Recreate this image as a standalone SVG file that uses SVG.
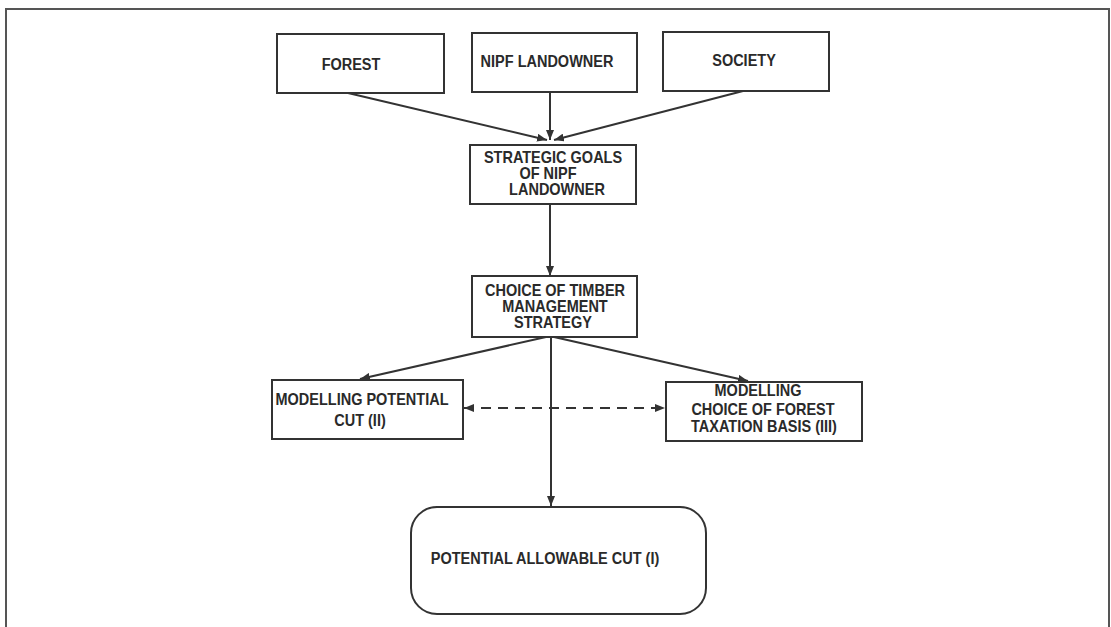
<svg xmlns="http://www.w3.org/2000/svg" width="1111" height="627" viewBox="0 0 1111 627">
  <defs>
    <style>
      .box { fill: #fff; stroke: #333; stroke-width: 2; }
      .frame { fill: none; stroke: #555; stroke-width: 2; }
      .lbl { font-family: "Liberation Sans", Arial, sans-serif; font-weight: bold; font-size: 14.5px; fill: #2a2a2a; text-anchor: middle; }
      .edge { fill: none; stroke: #333; stroke-width: 2; marker-end: url(#arrow); }
      .dash { stroke-dasharray: 10 7; marker-start: url(#arrow); }
    </style>
    <marker id="arrow" viewBox="0 0 10 8" refX="10" refY="4" markerWidth="10" markerHeight="8" markerUnits="userSpaceOnUse" orient="auto-start-reverse">
      <path d="M0,0 L10,4 L0,8 z" fill="#333"/>
    </marker>
  </defs>

  <rect width="1111" height="627" fill="#fff"/>
  <path class="frame" d="M6,627 V9 H1109 V627"/>

  <g id="connectors">
    <path class="edge" d="M348,93 L547,140"/>
    <path class="edge" d="M550,92 L550,140"/>
    <path class="edge" d="M743,91 L554,140"/>
    <path class="edge" d="M550,204 L550,276"/>
    <path class="edge" d="M546,337 L360,379"/>
    <path class="edge" d="M554,337 L748,381"/>
    <path class="edge" d="M551,337 L551,506"/>
    <path class="edge dash" d="M464,408 L665,408"/>
  </g>

  <g id="forest">
    <rect class="box" x="277" y="34" width="167" height="59"/>
    <text class="lbl" transform="translate(351,70) scale(1,1.2)">FOREST</text>
  </g>

  <g id="nipf-landowner">
    <rect class="box" x="472" y="33" width="165" height="59"/>
    <text class="lbl" transform="translate(547,67) scale(1,1.2)">NIPF LANDOWNER</text>
  </g>

  <g id="society">
    <rect class="box" x="663" y="32" width="166" height="59"/>
    <text class="lbl" transform="translate(744,66) scale(1,1.2)">SOCIETY</text>
  </g>

  <g id="strategic-goals">
    <rect class="box" x="470" y="145" width="166" height="59"/>
    <text class="lbl" transform="translate(553,163) scale(1,1.1)">STRATEGIC GOALS</text>
    <text class="lbl" transform="translate(548,179) scale(1,1.1)">OF NIPF</text>
    <text class="lbl" transform="translate(557,195) scale(1,1.1)">LANDOWNER</text>
  </g>

  <g id="timber-strategy">
    <rect class="box" x="472" y="276" width="165" height="61"/>
    <text class="lbl" transform="translate(555,296) scale(1,1.15)">CHOICE OF TIMBER</text>
    <text class="lbl" transform="translate(555,312) scale(1,1.15)">MANAGEMENT</text>
    <text class="lbl" transform="translate(553,328) scale(1,1.15)">STRATEGY</text>
  </g>

  <g id="potential-cut-model">
    <rect class="box" x="272" y="380" width="191" height="59"/>
    <text class="lbl" transform="translate(362,405) scale(1,1.12)">MODELLING POTENTIAL</text>
    <text class="lbl" transform="translate(360,426) scale(1,1.12)">CUT (II)</text>
  </g>

  <g id="taxation-model">
    <rect class="box" x="666" y="382" width="196" height="59"/>
    <text class="lbl" transform="translate(758,396) scale(1,1.12)">MODELLING</text>
    <text class="lbl" transform="translate(763,415) scale(1,1.12)">CHOICE OF FOREST</text>
    <text class="lbl" transform="translate(764,432) scale(1,1.12)">TAXATION BASIS (III)</text>
  </g>

  <g id="allowable-cut">
    <rect class="box" x="411" y="507" width="295" height="107" rx="26" ry="26"/>
    <text class="lbl" transform="translate(545,564) scale(1,1.17)">POTENTIAL ALLOWABLE CUT (I)</text>
  </g>
</svg>
